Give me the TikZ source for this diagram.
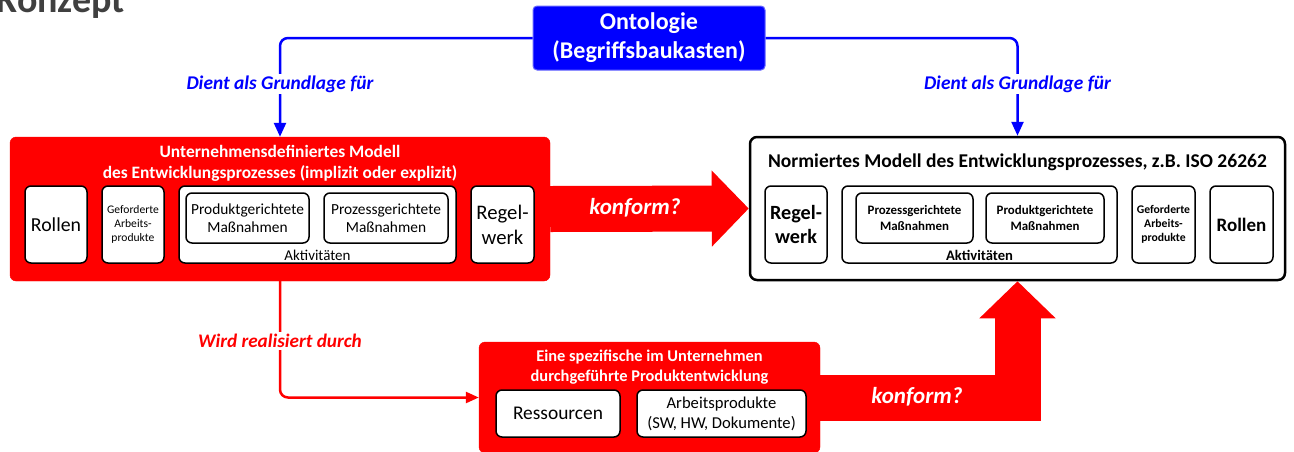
\documentclass[tikz,border=0pt]{standalone}
\usepackage{fontspec}
\setmainfont{Carlito}
\usetikzlibrary{arrows.meta}
\definecolor{rd}{RGB}{255,0,0}
\definecolor{bl}{RGB}{0,0,255}
\definecolor{tgray}{RGB}{64,64,64}
\newcommand{\fs}[1]{\fontsize{#1pt}{1.2\dimexpr#1pt\relax}\selectfont}
\begin{document}
\begin{tikzpicture}[x=1pt,y=-1pt,
  redbox/.style={fill=rd,draw=rd,rounded corners=6pt,inner sep=0pt},
  normbox/.style={fill=white,draw=black,line width=2.5pt,rounded corners=7pt,inner sep=0pt},
  inbox/.style={fill=white,draw=black,line width=1.5pt,rounded corners=6pt,inner sep=0pt,align=center},
  ontobox/.style={fill=bl,draw=bl!60,line width=1pt,rounded corners=4pt,inner sep=0pt,align=center,text=white,font=\bfseries\fs{24}},
  blueconn/.style={draw=bl,line width=2.5pt,rounded corners=8pt,-{Triangle[length=14pt,width=12pt]}},
  redconn/.style={draw=rd,line width=2.5pt,rounded corners=8pt,-{Triangle[length=13pt,width=11pt]}},
  bigarrow/.style={draw=rd,line width=46pt,line join=miter,-{Triangle[length=37pt,width=74pt]}},
  bluelabel/.style={fill=white,text=bl,font=\bfseries\itshape\fs{19.4},inner sep=2pt},
  redlabel/.style={fill=white,text=rd,font=\bfseries\itshape\fs{19.2},inner sep=2pt},
  wtitle/.style={text=white,font=\bfseries\fs{17.4},align=center,inner sep=0pt},
  konf/.style={text=white,font=\bfseries\itshape\fs{23},inner sep=0pt}
]
\useasboundingbox (0,0) rectangle (1294,451);
% title fragment
\node[anchor=base east,text=tgray,font=\bfseries\fs{38},inner sep=0pt] (konzept) at (125,12) {Konzept};

% Ontologie
\node[ontobox,minimum width=232pt,minimum height=64pt] (onto) at (649,38) {Ontologie\\(Begriffsbaukasten)};

% left red model
\node[redbox,minimum width=540pt,minimum height=144pt] (m1) at (280,209) {};
\node[wtitle] (m1t) at (280,163) {Unternehmensdefiniertes Modell\\des Entwicklungsprozesses (implizit oder explizit)};
\node[inbox,minimum width=62pt,minimum height=77pt,font=\fs{19.8}] (rolL) at (56,224.5) {Rollen};
\node[inbox,minimum width=62pt,minimum height=77pt,font=\fs{11.6}] (gefL) at (133,224.5) {Geforderte\\Arbeits-\\produkte};
\node[inbox,minimum width=277pt,minimum height=77pt] (aktL) at (317.5,224.5) {};
\node[inbox,minimum width=123pt,minimum height=50pt,font=\fs{15.4}] (prodL) at (247.5,218) {Produktgerichtete\\Maßnahmen};
\node[inbox,minimum width=124pt,minimum height=50pt,font=\fs{15.4}] (prozL) at (386,218) {Prozessgerichtete\\Maßnahmen};
\node[inner sep=0pt,font=\fs{15}] (aktLt) at (317.5,255) {Aktivitäten};
\node[inbox,minimum width=63pt,minimum height=77pt,font=\fs{20.7}] (regL) at (502.5,224.5) {Regel-\\werk};

% right normed model
\node[normbox,minimum width=535pt,minimum height=143pt] (norm) at (1017.5,208.5) {};
\node[inner sep=0pt,font=\bfseries\fs{19.5}] (normt) at (1017.5,162) {Normiertes Modell des Entwicklungsprozesses, z.B. ISO 26262};
\node[inbox,minimum width=62pt,minimum height=77pt,font=\bfseries\fs{20.2}] (regR) at (796,224.5) {Regel-\\werk};
\node[inbox,minimum width=275pt,minimum height=77pt] (aktR) at (979.5,224.5) {};
\node[inbox,minimum width=117pt,minimum height=50pt,font=\bfseries\fs{12.9}] (prozR) at (914.5,218) {Prozessgerichtete\\Maßnahmen};
\node[inbox,minimum width=118pt,minimum height=50pt,font=\bfseries\fs{12.9}] (prodR) at (1045,218) {Produktgerichtete\\Maßnahmen};
\node[inner sep=0pt,font=\bfseries\fs{14.6}] (aktRt) at (979.5,255) {Aktivitäten};
\node[inbox,minimum width=63pt,minimum height=77pt,font=\bfseries\fs{11.7}] (gefR) at (1163.5,224.5) {Geforderte\\Arbeits-\\produkte};
\node[inbox,minimum width=63pt,minimum height=77pt,font=\bfseries\fs{19}] (rolR) at (1241.5,224.5) {Rollen};

% bottom red product development
\node[redbox,minimum width=341pt,minimum height=111pt] (m2) at (649.5,397.5) {};
\node[wtitle,font=\bfseries\fs{16.4}] (m2t) at (649.5,367) {Eine spezifische im Unternehmen\\durchgeführte Produktentwicklung};
\node[inbox,minimum width=124pt,minimum height=47pt,font=\fs{19.4}] (res) at (558,413.5) {Ressourcen};
\node[inbox,minimum width=169pt,minimum height=47pt,font=\fs{16.6}] (arb) at (721.5,413.5) {Arbeitsprodukte\\(SW, HW, Dokumente)};

% connectors
\draw[blueconn] (onto.west) -| (m1.north);
\draw[blueconn] (onto.east) -| (norm.north);
\node[bluelabel] (dl) at (280,84) {Dient als Grundlage für};
\node[bluelabel] (dr) at (1017.5,84) {Dient als Grundlage für};

\draw[redconn] (m1.south) |- (m2.west);
\node[redlabel] (wr) at (280,341) {Wird realisiert durch};

\draw[bigarrow] (m1.east) -- (norm.west);
\node[konf] (k1) at (635,208) {konform?};
\draw[bigarrow] (m2.east) -| (norm.south);
\node[konf] (k2) at (917,397) {konform?};
\end{tikzpicture}
\end{document}
